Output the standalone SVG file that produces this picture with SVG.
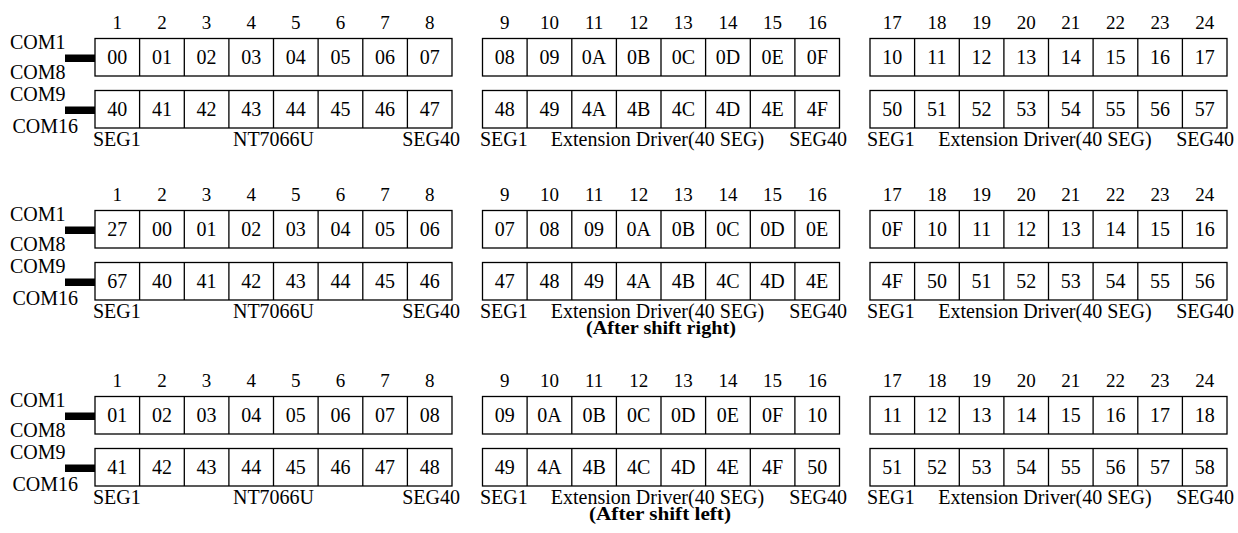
<svg xmlns="http://www.w3.org/2000/svg" width="1238" height="533" viewBox="0 0 1238 533">
<style>
.t{font-family:"Liberation Serif","Times New Roman",serif;font-size:20px;fill:#000}
.c{text-anchor:middle}
.e{text-anchor:end}
.n{font-size:19px}
.cap{font-weight:bold;font-size:18px}
.box{fill:#fff;stroke:#000;stroke-width:1.3}
.div{fill:none;stroke:#000;stroke-width:1.3}
.bar{fill:#000}
</style>
<defs>
<g id="frame">
<rect class="box" x="0" y="38.5" width="357" height="37.5"/>
<rect class="box" x="0" y="90.5" width="357" height="37.5"/>
<path class="div" d="M44.6 38.5V76M89.3 38.5V76M133.9 38.5V76M178.5 38.5V76M223.1 38.5V76M267.8 38.5V76M312.4 38.5V76M44.6 90.5V128M89.3 90.5V128M133.9 90.5V128M178.5 90.5V128M223.1 90.5V128M267.8 90.5V128M312.4 90.5V128"/>
</g>
<g id="nums" class="t n c">
<text x="117.3" y="29">1</text><text x="161.9" y="29">2</text><text x="206.6" y="29">3</text><text x="251.2" y="29">4</text><text x="295.8" y="29">5</text><text x="340.4" y="29">6</text><text x="385.1" y="29">7</text><text x="429.7" y="29">8</text>
<text x="504.8" y="29">9</text><text x="549.4" y="29">10</text><text x="594.1" y="29">11</text><text x="638.7" y="29">12</text><text x="683.3" y="29">13</text><text x="727.9" y="29">14</text><text x="772.6" y="29">15</text><text x="817.2" y="29">16</text>
<text x="892.3" y="29">17</text><text x="936.9" y="29">18</text><text x="981.6" y="29">19</text><text x="1026.2" y="29">20</text><text x="1070.8" y="29">21</text><text x="1115.4" y="29">22</text><text x="1160.1" y="29">23</text><text x="1204.7" y="29">24</text>
</g>
<g id="coms" class="t">
<text x="10" y="49">COM1</text><text x="10" y="79">COM8</text><text x="10" y="101">COM9</text><text x="12.5" y="133">COM16</text>
</g>
<g id="labels1" class="t"><text x="93" y="146">SEG1</text><text class="c" x="273.5" y="146">NT7066U</text><text class="e" x="460" y="146">SEG40</text></g>
<g id="labels2" class="t"><text x="480" y="146">SEG1</text><text class="c" x="657.5" y="146">Extension Driver(40 SEG)</text><text class="e" x="847" y="146">SEG40</text></g>
<g id="labels3" class="t"><text x="867" y="146">SEG1</text><text class="c" x="1045" y="146">Extension Driver(40 SEG)</text><text class="e" x="1234" y="146">SEG40</text></g>
<g id="bars"><rect class="bar" x="65" y="54.5" width="30" height="7.5"/><rect class="bar" x="65" y="106.5" width="30" height="7.5"/></g>
</defs>

<g id="connectors">
<use href="#bars"/>
<use href="#bars" y="172"/>
<use href="#bars" y="358"/>
</g>

<g id="panel1">
<use href="#nums"/>
<g id="p1-com"><use href="#coms"/></g>
<g id="p1-nt7066u">
<use href="#frame" x="95"/>
<g class="t c">
<text x="117.3" y="64">00</text><text x="161.9" y="64">01</text><text x="206.6" y="64">02</text><text x="251.2" y="64">03</text><text x="295.8" y="64">04</text><text x="340.4" y="64">05</text><text x="385.1" y="64">06</text><text x="429.7" y="64">07</text>
<text x="117.3" y="116">40</text><text x="161.9" y="116">41</text><text x="206.6" y="116">42</text><text x="251.2" y="116">43</text><text x="295.8" y="116">44</text><text x="340.4" y="116">45</text><text x="385.1" y="116">46</text><text x="429.7" y="116">47</text>
</g>
<use href="#labels1"/>
</g>
<g id="p1-ext1">
<use href="#frame" x="482.5"/>
<g class="t c">
<text x="504.8" y="64">08</text><text x="549.4" y="64">09</text><text x="594.1" y="64">0A</text><text x="638.7" y="64">0B</text><text x="683.3" y="64">0C</text><text x="727.9" y="64">0D</text><text x="772.6" y="64">0E</text><text x="817.2" y="64">0F</text>
<text x="504.8" y="116">48</text><text x="549.4" y="116">49</text><text x="594.1" y="116">4A</text><text x="638.7" y="116">4B</text><text x="683.3" y="116">4C</text><text x="727.9" y="116">4D</text><text x="772.6" y="116">4E</text><text x="817.2" y="116">4F</text>
</g>
<use href="#labels2"/>
</g>
<g id="p1-ext2">
<use href="#frame" x="870"/>
<g class="t c">
<text x="892.3" y="64">10</text><text x="936.9" y="64">11</text><text x="981.6" y="64">12</text><text x="1026.2" y="64">13</text><text x="1070.8" y="64">14</text><text x="1115.4" y="64">15</text><text x="1160.1" y="64">16</text><text x="1204.7" y="64">17</text>
<text x="892.3" y="116">50</text><text x="936.9" y="116">51</text><text x="981.6" y="116">52</text><text x="1026.2" y="116">53</text><text x="1070.8" y="116">54</text><text x="1115.4" y="116">55</text><text x="1160.1" y="116">56</text><text x="1204.7" y="116">57</text>
</g>
<use href="#labels3"/>
</g>
</g>

<g id="panel2" transform="translate(0,172)">
<use href="#nums"/>
<g id="p2-com"><use href="#coms"/></g>
<g id="p2-nt7066u">
<use href="#frame" x="95"/>
<g class="t c">
<text x="117.3" y="64">27</text><text x="161.9" y="64">00</text><text x="206.6" y="64">01</text><text x="251.2" y="64">02</text><text x="295.8" y="64">03</text><text x="340.4" y="64">04</text><text x="385.1" y="64">05</text><text x="429.7" y="64">06</text>
<text x="117.3" y="116">67</text><text x="161.9" y="116">40</text><text x="206.6" y="116">41</text><text x="251.2" y="116">42</text><text x="295.8" y="116">43</text><text x="340.4" y="116">44</text><text x="385.1" y="116">45</text><text x="429.7" y="116">46</text>
</g>
<use href="#labels1"/>
</g>
<g id="p2-ext1">
<use href="#frame" x="482.5"/>
<g class="t c">
<text x="504.8" y="64">07</text><text x="549.4" y="64">08</text><text x="594.1" y="64">09</text><text x="638.7" y="64">0A</text><text x="683.3" y="64">0B</text><text x="727.9" y="64">0C</text><text x="772.6" y="64">0D</text><text x="817.2" y="64">0E</text>
<text x="504.8" y="116">47</text><text x="549.4" y="116">48</text><text x="594.1" y="116">49</text><text x="638.7" y="116">4A</text><text x="683.3" y="116">4B</text><text x="727.9" y="116">4C</text><text x="772.6" y="116">4D</text><text x="817.2" y="116">4E</text>
</g>
<use href="#labels2"/>
</g>
<g id="p2-ext2">
<use href="#frame" x="870"/>
<g class="t c">
<text x="892.3" y="64">0F</text><text x="936.9" y="64">10</text><text x="981.6" y="64">11</text><text x="1026.2" y="64">12</text><text x="1070.8" y="64">13</text><text x="1115.4" y="64">14</text><text x="1160.1" y="64">15</text><text x="1204.7" y="64">16</text>
<text x="892.3" y="116">4F</text><text x="936.9" y="116">50</text><text x="981.6" y="116">51</text><text x="1026.2" y="116">52</text><text x="1070.8" y="116">53</text><text x="1115.4" y="116">54</text><text x="1160.1" y="116">55</text><text x="1204.7" y="116">56</text>
</g>
<use href="#labels3"/>
</g>
<text id="p2-caption" class="t c cap" x="661" y="162" textLength="150" lengthAdjust="spacingAndGlyphs">(After shift right)</text>
</g>

<g id="panel3" transform="translate(0,358)">
<use href="#nums"/>
<g id="p3-com"><use href="#coms"/></g>
<g id="p3-nt7066u">
<use href="#frame" x="95"/>
<g class="t c">
<text x="117.3" y="64">01</text><text x="161.9" y="64">02</text><text x="206.6" y="64">03</text><text x="251.2" y="64">04</text><text x="295.8" y="64">05</text><text x="340.4" y="64">06</text><text x="385.1" y="64">07</text><text x="429.7" y="64">08</text>
<text x="117.3" y="116">41</text><text x="161.9" y="116">42</text><text x="206.6" y="116">43</text><text x="251.2" y="116">44</text><text x="295.8" y="116">45</text><text x="340.4" y="116">46</text><text x="385.1" y="116">47</text><text x="429.7" y="116">48</text>
</g>
<use href="#labels1"/>
</g>
<g id="p3-ext1">
<use href="#frame" x="482.5"/>
<g class="t c">
<text x="504.8" y="64">09</text><text x="549.4" y="64">0A</text><text x="594.1" y="64">0B</text><text x="638.7" y="64">0C</text><text x="683.3" y="64">0D</text><text x="727.9" y="64">0E</text><text x="772.6" y="64">0F</text><text x="817.2" y="64">10</text>
<text x="504.8" y="116">49</text><text x="549.4" y="116">4A</text><text x="594.1" y="116">4B</text><text x="638.7" y="116">4C</text><text x="683.3" y="116">4D</text><text x="727.9" y="116">4E</text><text x="772.6" y="116">4F</text><text x="817.2" y="116">50</text>
</g>
<use href="#labels2"/>
</g>
<g id="p3-ext2">
<use href="#frame" x="870"/>
<g class="t c">
<text x="892.3" y="64">11</text><text x="936.9" y="64">12</text><text x="981.6" y="64">13</text><text x="1026.2" y="64">14</text><text x="1070.8" y="64">15</text><text x="1115.4" y="64">16</text><text x="1160.1" y="64">17</text><text x="1204.7" y="64">18</text>
<text x="892.3" y="116">51</text><text x="936.9" y="116">52</text><text x="981.6" y="116">53</text><text x="1026.2" y="116">54</text><text x="1070.8" y="116">55</text><text x="1115.4" y="116">56</text><text x="1160.1" y="116">57</text><text x="1204.7" y="116">58</text>
</g>
<use href="#labels3"/>
</g>
<text id="p3-caption" class="t c cap" x="660" y="161.5" textLength="142" lengthAdjust="spacingAndGlyphs">(After shift left)</text>
</g>
</svg>
